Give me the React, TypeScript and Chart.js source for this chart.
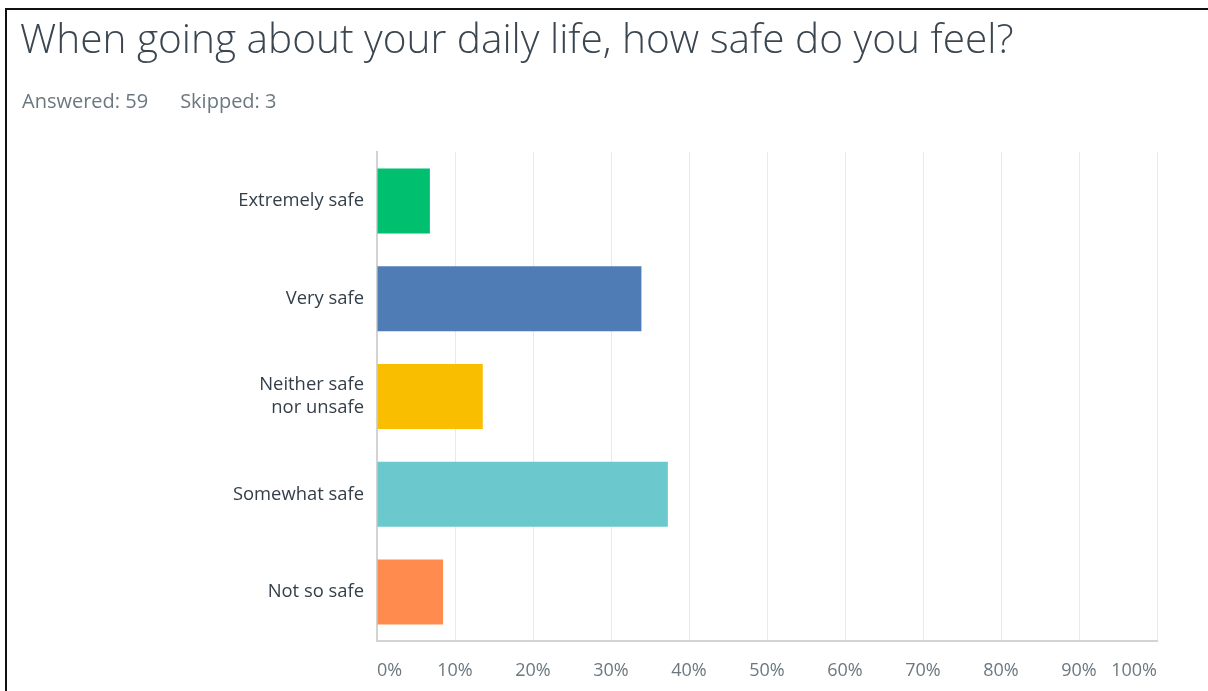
import React, { useEffect, useRef } from "react";
import { Chart, registerables } from "chart.js";

Chart.register(...registerables);

const titleText = "When going about your daily life, how safe do you feel?";
const answeredText = "Answered: 59";
const skippedText = "Skipped: 3";

const categories: (string | string[])[] = [
  "Extremely safe",
  "Very safe",
  ["Neither safe", "nor unsafe"],
  "Somewhat safe",
  "Not so safe",
];
const percentages = [6.78, 33.9, 13.56, 37.29, 8.47];
const barColors = ["#00bf6f", "#507cb6", "#f9be00", "#6bc8cd", "#ff8b4f"];
const xTickLabels = ["0%", "10%", "20%", "30%", "40%", "50%", "60%", "70%", "80%", "90%", "100%"];

const FONT = "'Open Sans', 'Noto Sans', sans-serif";

export default function App() {
  const canvasRef = useRef<HTMLCanvasElement | null>(null);

  useEffect(() => {
    if (!canvasRef.current) return;
    const chart = new Chart(canvasRef.current, {
      type: "bar",
      data: {
        labels: categories,
        datasets: [
          {
            data: percentages,
            backgroundColor: barColors,
            borderWidth: 0,
            barPercentage: 0.665,
            categoryPercentage: 1,
          },
        ],
      },
      options: {
        indexAxis: "y",
        responsive: false,
        animation: false,
        layout: { padding: { top: 152, right: 51, bottom: 0, left: 0 } },
        plugins: {
          legend: { display: false },
          tooltip: { enabled: false },
          title: { display: false },
        },
        scales: {
          x: {
            min: 0,
            max: 100,
            afterFit: (s: any) => {
              s.height = 50;
            },
            grid: { color: "#e9e9e9", drawTicks: false, lineWidth: 1 },
            border: { color: "#d3d3d3", width: 2 },
            ticks: {
              stepSize: 10,
              align: "inner",
              padding: 19,
              color: "#6b787f",
              font: { family: FONT, size: 18 },
              callback: (_v: any, i: number) => xTickLabels[i],
            },
          },
          y: {
            afterFit: (s: any) => {
              s.width = 377;
            },
            grid: { display: false, drawTicks: false },
            border: { color: "#d3d3d3", width: 2 },
            ticks: {
              padding: 13,
              color: "#333e48",
              font: { family: FONT, size: 18.4, lineHeight: 1.27 },
            },
          },
        },
      },
    });
    return () => chart.destroy();
  }, []);

  return (
    <div style={{ position: "fixed", left: 0, top: 0, width: 1208, height: 691, background: "#fff", overflow: "hidden" }}>
      <div
        style={{
          position: "absolute",
          left: 5,
          top: 8,
          width: 1300,
          height: 800,
          borderTop: "2px solid #111",
          borderLeft: "2px solid #111",
        }}
      />
      <canvas ref={canvasRef} width={1208} height={691} style={{ position: "absolute", left: 0, top: 0 }} />
      <div
        style={{
          position: "absolute",
          left: 20,
          top: 11,
          fontFamily: FONT,
          fontWeight: 300,
          fontSize: 40.6,
          color: "#3b4650",
          whiteSpace: "nowrap",
          lineHeight: "54px",
        }}
      >
        {titleText}
      </div>
      <div
        style={{
          position: "absolute",
          left: 22,
          top: 87,
          fontFamily: FONT,
          fontSize: 20,
          color: "#6b787f",
          whiteSpace: "nowrap",
          lineHeight: "28px",
        }}
      >
        <span>{answeredText}</span>
        <span style={{ marginLeft: 32 }}>{skippedText}</span>
      </div>
    </div>
  );
}
